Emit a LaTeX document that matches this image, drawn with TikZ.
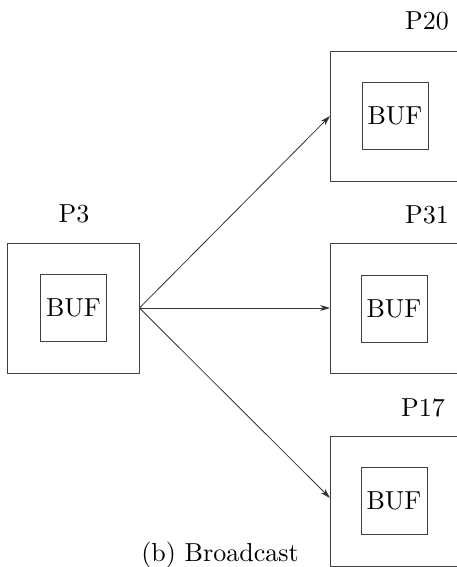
\documentclass[tikz,border=0pt]{standalone}
\usepackage{fontspec}
\setmainfont{lmroman10-regular}[Extension=.otf]
\usetikzlibrary{arrows.meta}
\begin{document}
\begin{tikzpicture}[x=1pt,y=-1pt,
  every node/.style={font=\fontsize{26}{30}\selectfont},
  proc/.style={draw=black!75, line width=0.9pt, minimum width=132pt, minimum height=130pt, inner sep=0pt},
  buf/.style={draw=black!75, line width=0.9pt, minimum width=66pt, minimum height=67pt, inner sep=0pt},
  plabel/.style={anchor=base, inner sep=0pt},
  msg/.style={draw=black!80, line width=0.8pt, -{Stealth[length=10pt,width=6pt]}}]
  \useasboundingbox (0,0) rectangle (456,567);

  % sender
  \node[proc] (p3) at (73,308) {};
  \node[buf] (b3) at (73.5,307.5) {BUF};
  \node[plabel] (l3) at (74,222) {P3};

  % receivers
  \node[proc] (p20) at (396,116.5) {};
  \node[buf] (b20) at (395,115.5) {BUF};
  \node[plabel] (l20) at (427,30) {P20};

  \node[proc] (p31) at (396,308.5) {};
  \node[buf] (b31) at (394,308.5) {BUF};
  \node[plabel] (l31) at (427,223) {P31};

  \node[proc] (p17) at (396,501) {};
  \node[buf] (b17) at (394,501) {BUF};
  \node[plabel] (l17) at (423,416) {P17};

  % broadcast messages
  \coordinate (src) at (p3.east);
  \coordinate (t20) at (330,116);
  \coordinate (t31) at (330,308);
  \coordinate (t17) at (330,498);
  \draw[msg] (src) -- (t20);
  \draw[msg] (src) -- (t31);
  \draw[msg] (src) -- (t17);

  \node[plabel] (cap) at (220,561) {(b) Broadcast};
\end{tikzpicture}
\end{document}
